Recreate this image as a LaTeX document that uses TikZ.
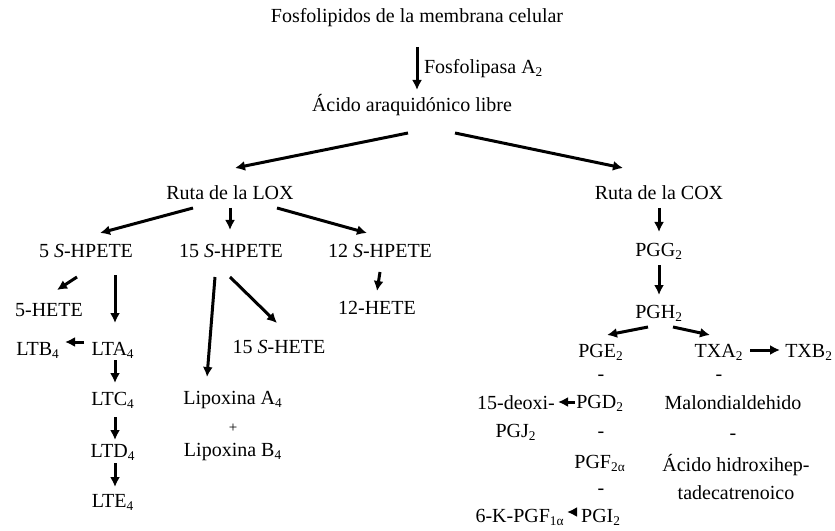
\documentclass[tikz,border=0pt]{standalone}
\usepackage{fontspec}
\setmainfont{Liberation Serif}
\usetikzlibrary{arrows.meta}

\begin{document}
\begin{tikzpicture}[x=0.6pt,y=-0.6pt,>={Latex[length=6pt,width=6pt]},
	font=\fontsize{12}{17}\selectfont,
	flecha/.style={->,line width=1.8pt},
	marca/.style={inner sep=0pt}]
	\useasboundingbox (0,0) rectangle (835,531);
	% inicio
	\node (F) at (417,18) {Fosfolipidos de la membrana celular};
	\node (AA) at (412,105) {Ácido araquidónico libre};
	\draw[flecha] ([shift={(0,29)}]F.center)--([shift={(5,-15)}]AA.center) node[midway,right] {Fosfolipasa A\textsubscript{2}};
	\node (LOX) at (230,193) {Ruta de la LOX};
	\node (COX) at (659,193) {Ruta de la COX};
	\draw[flecha] ([shift={(-4,28)}]AA.center)--([shift={(5,-25)}]LOX.center);
	\draw[flecha] ([shift={(43,28)}]AA.center)--([shift={(-36,-25)}]COX.center);
	% ruta LOX
	\node (H5) at (86,251) {5 \textit{S}-HPETE};
	\node (H15) at (231,251) {15 \textit{S}-HPETE};
	\node (H12) at (380,251) {12 \textit{S}-HPETE};
	\draw[flecha] ([shift={(-37,15)}]LOX.center)--([shift={(14,-18)}]H5.center);
	\draw[flecha] ([shift={(0,15)}]LOX.center)--([shift={(-1,-21)}]H15.center);
	\draw[flecha] ([shift={(47,15)}]LOX.center)--([shift={(-13,-18)}]H12.center);
	\node (E5) at (49,310) {5-HETE};
	\node (LTA) at (113,350) {LTA\textsubscript{4}};
	\node (LTB) at (38,350) {LTB\textsubscript{4}};
	\node (LTC) at (113,400) {LTC\textsubscript{4}};
	\node (LTD) at (113,452) {LTD\textsubscript{4}};
	\node (LTE) at (113,502) {LTE\textsubscript{4}};
	\draw[flecha] ([shift={(-9,26)}]H5.center)--([shift={(8,-20)}]E5.center);
	\draw[flecha] ([shift={(29,24)}]H5.center)--([shift={(2,-27)}]LTA.center);
	\draw[flecha] ([shift={(-29,-8)}]LTA.center)--([shift={(27,-8)}]LTB.center);
	\draw[flecha] ([shift={(2,10)}]LTA.center)--([shift={(2,-17)}]LTC.center);
	\draw[flecha] ([shift={(2,17)}]LTC.center)--([shift={(2,-12)}]LTD.center);
	\draw[flecha] ([shift={(2,11)}]LTD.center)--([shift={(2,-15)}]LTE.center);
	\node (E15) at (279,347) {15 \textit{S}-HETE};
	\node (LXA) at (233,400) {Lipoxina A\textsubscript{4}};
	\node[marca,font=\small] (mas) at (233,428) {+};
	\node (LXB) at (233,452) {Lipoxina B\textsubscript{4}};
	\draw[flecha] ([shift={(-16,26)}]H15.center)--([shift={(-26,-23)}]LXA.center);
	\draw[flecha] ([shift={(-1,26)}]H15.center)--([shift={(-2,-24)}]E15.center);
	\node (E12) at (377,308) {12-HETE};
	\draw[flecha] ([shift={(0,21)}]H12.center)--([shift={(0,-17)}]E12.center);
	% ruta COX
	\node (PGG) at (659,251) {PGG\textsubscript{2}};
	\node (PGH) at (659,313) {PGH\textsubscript{2}};
	\draw[flecha] ([shift={(0,15)}]COX.center)--([shift={(0,-19)}]PGG.center);
	\draw[flecha] ([shift={(0,14)}]PGG.center)--([shift={(0,-18)}]PGH.center);
	\node (PGE) at (601,352) {PGE\textsubscript{2}};
	\node (TXA) at (719,352) {TXA\textsubscript{2}};
	\node (TXB) at (809,352) {TXB\textsubscript{2}};
	\draw[flecha] ([shift={(-11,14)}]PGH.center)--([shift={(6,-17)}]PGE.center);
	\draw[flecha] ([shift={(14,14)}]PGH.center)--([shift={(-9,-17)}]TXA.center);
	\draw[flecha] ([shift={(31,-2)}]TXA.center)--([shift={(-29,-2)}]TXB.center);
	\node[marca] (m1) at (601,378) {-};
	\node (PGD) at (600,403) {PGD\textsubscript{2}};
	\node[align=center] (PGJ) at (516,418) {15-deoxi-\\PGJ\textsubscript{2}};
	\draw[flecha] ([shift={(-25,-1)}]PGD.center)--([shift={(42,-16)}]PGJ.center);
	\node[marca] (m2) at (601,435) {-};
	\node (PGF) at (600,463) {PGF\textsubscript{2α}};
	\node[marca] (m3) at (601,492) {-};
	\node (PGI) at (601,517) {PGI\textsubscript{2}};
	\node (KPGF) at (520,517) {6-K-PGF\textsubscript{1α}};
	\draw[flecha] ([shift={(-26,-5)}]PGI.center)--([shift={(47,-5)}]KPGF.center);
	\node[marca] (m4) at (719,378) {-};
	\node (MDA) at (733,403) {Malondialdehido};
	\node[marca] (m5) at (733,437) {-};
	\node[align=center] (HHT) at (736,477) {Ácido hidroxihep-\\tadecatrenoico};
\end{tikzpicture}
\end{document}
